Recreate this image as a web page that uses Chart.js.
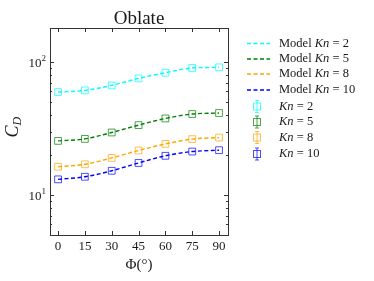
<!DOCTYPE html>
<html>
<head>
<meta charset="utf-8">
<script src="https://cdn.jsdelivr.net/npm/chart.js@4/dist/chart.umd.min.js"></script>
<style>
  html, body { margin: 0; padding: 0; background: #fff; }
  #wrap { width: 374px; height: 281px; }
</style>
</head>
<body>
<div id="wrap"><canvas id="c"></canvas></div>
<script>
const phi = [0, 15, 30, 45, 60, 75, 90];
const cdKn2 = [59.4, 61.1, 66.6, 75.2, 83.0, 90.1, 91.1];
const cdKn5 = [25.5, 26.4, 29.5, 33.5, 37.6, 40.6, 41.3];
const cdKn8 = [16.3, 17.0, 19.0, 21.6, 24.2, 26.3, 27.0];
const cdKn10 = [13.1, 13.7, 15.2, 17.4, 19.7, 21.2, 21.7];
const knLabels = ['2', '5', '8', '10'];
const xTicks = [0, 15, 30, 45, 60, 75, 90];
const yMajor = [10, 100];
const yMinor = [5, 6, 7, 8, 9, 20, 30, 40, 50, 60, 70, 80, 90];

const colors = ['#00ffff', '#008000', '#ffa500', '#0000ff'];
const series = [cdKn2, cdKn5, cdKn8, cdKn10];
const serif = '"Liberation Serif", "DejaVu Serif", serif';

const pts = (vals) => phi.map((p, i) => ({ x: p, y: vals[i] }));

const datasets = [];
series.forEach((vals, i) => {
    datasets.push({
        data: pts(vals),
        borderColor: colors[i],
        borderWidth: 1.4,
        borderDash: [4, 2.5],
        cubicInterpolationMode: 'monotone',
        pointRadius: 0,
        fill: false,
    });
});
series.forEach((vals, i) => {
    datasets.push({
        data: pts(vals),
        showLine: false,
        pointStyle: 'rect',
        pointRadius: 4.8,
        pointBorderWidth: 1,
        pointBorderColor: colors[i] + 'b3',
        pointBackgroundColor: 'rgba(0,0,0,0)',
    });
});

function drawMath(ctx, parts, x, y, size) {
    // parts: [text, italic]
    parts.forEach(([t, it]) => {
        ctx.font = (it ? 'italic ' : '') + size + 'px ' + serif;
        ctx.fillText(t, x, y);
        x += ctx.measureText(t).width;
    });
}

const decor = {
    id: 'decor',
    afterDraw(chart) {
        const { ctx, chartArea: a, scales } = chart;
        const xs = scales.x, ys = scales.y;
        ctx.save();
        ctx.strokeStyle = '#333';
        ctx.lineWidth = 1;
        ctx.strokeRect(a.left + 0.5, a.top + 0.5, a.right - a.left, a.bottom - a.top);

        ctx.beginPath();
        xTicks.forEach((v) => {
            const px = Math.round(xs.getPixelForValue(v)) + 0.5;
            ctx.moveTo(px, a.bottom); ctx.lineTo(px, a.bottom - 4);
            ctx.moveTo(px, a.top); ctx.lineTo(px, a.top + 4);
        });
        yMajor.forEach((v) => {
            const py = Math.round(ys.getPixelForValue(v)) + 0.5;
            ctx.moveTo(a.left, py); ctx.lineTo(a.left + 4, py);
            ctx.moveTo(a.right, py); ctx.lineTo(a.right - 4, py);
        });
        yMinor.forEach((v) => {
            const py = Math.round(ys.getPixelForValue(v)) + 0.5;
            ctx.moveTo(a.left, py); ctx.lineTo(a.left + 2, py);
            ctx.moveTo(a.right, py); ctx.lineTo(a.right - 2, py);
        });
        ctx.stroke();

        ctx.fillStyle = '#1a1a1a';
        ctx.font = '13px ' + serif;
        ctx.textAlign = 'center';
        ctx.textBaseline = 'alphabetic';
        xTicks.forEach((v) => ctx.fillText(String(v), xs.getPixelForValue(v), a.bottom + 15));

        yMajor.forEach((v) => {
            const py = ys.getPixelForValue(v);
            const exp = String(Math.round(Math.log10(v)));
            ctx.font = '9px ' + serif;
            const ew = ctx.measureText(exp).width;
            ctx.textAlign = 'left';
            ctx.fillText(exp, a.left - 4 - ew, py - 1);
            ctx.font = '13px ' + serif;
            ctx.textAlign = 'right';
            ctx.fillText('10', a.left - 4 - ew, py + 5);
        });

        // title
        ctx.textAlign = 'center';
        ctx.font = '19px ' + serif;
        ctx.fillText('Oblate', (a.left + a.right) / 2, 24);

        // x label
        ctx.font = '15px ' + serif;
        ctx.fillText('Φ(°)', (a.left + a.right) / 2, 269);

        // y label
        ctx.save();
        ctx.translate(18, (a.top + a.bottom) / 2 - 4);
        ctx.rotate(-Math.PI / 2);
        ctx.font = 'italic 18px ' + serif;
        ctx.textAlign = 'left';
        const cw = ctx.measureText('C').width;
        ctx.fillText('C', -cw / 2 - 4, 0);
        ctx.font = 'italic 12px ' + serif;
        ctx.fillText('D', cw / 2 - 4, 3);
        ctx.restore();

        // legend
        ctx.textAlign = 'left';
        ctx.textBaseline = 'middle';
        const rowY = [43.5, 59, 74, 90, 106.5, 122, 137.5, 154];
        colors.forEach((c, i) => {
            const y = rowY[i];
            ctx.strokeStyle = c;
            ctx.lineWidth = 1.4;
            ctx.setLineDash([4, 2.5]);
            ctx.beginPath(); ctx.moveTo(247, y); ctx.lineTo(270, y); ctx.stroke();
            ctx.setLineDash([]);
            ctx.fillStyle = '#1a1a1a';
            drawMath(ctx, [['Model ', false], ['Kn', true], [' = ' + knLabels[i], false]], 279, y, 12.5);
        });
        colors.forEach((c, i) => {
            const y = rowY[i + 4];
            ctx.strokeStyle = c + 'b3';
            ctx.lineWidth = 1;
            ctx.beginPath();
            ctx.moveTo(257, y - 6); ctx.lineTo(257, y + 6);
            ctx.moveTo(255, y - 6); ctx.lineTo(259, y - 6);
            ctx.moveTo(255, y + 6); ctx.lineTo(259, y + 6);
            ctx.stroke();
            ctx.strokeRect(253.5, y - 3.5, 7, 7);
            ctx.fillStyle = '#1a1a1a';
            drawMath(ctx, [['Kn', true], [' = ' + knLabels[i], false]], 279, y, 12.5);
        });
        ctx.restore();
    },
};

new Chart(document.getElementById('c'), {
    type: 'line',
    data: { datasets },
    options: {
        responsive: true,
        maintainAspectRatio: false,
        animation: false,
        layout: { padding: { left: 50, right: 146, top: 28, bottom: 46 } },
        plugins: { legend: { display: false }, tooltip: { enabled: false } },
        scales: {
            x: { type: 'linear', min: -4.5, max: 95, display: false },
            y: { type: 'logarithmic', min: 5, max: 180, display: false },
        },
    },
    plugins: [decor],
});
</script>
</body>
</html>
